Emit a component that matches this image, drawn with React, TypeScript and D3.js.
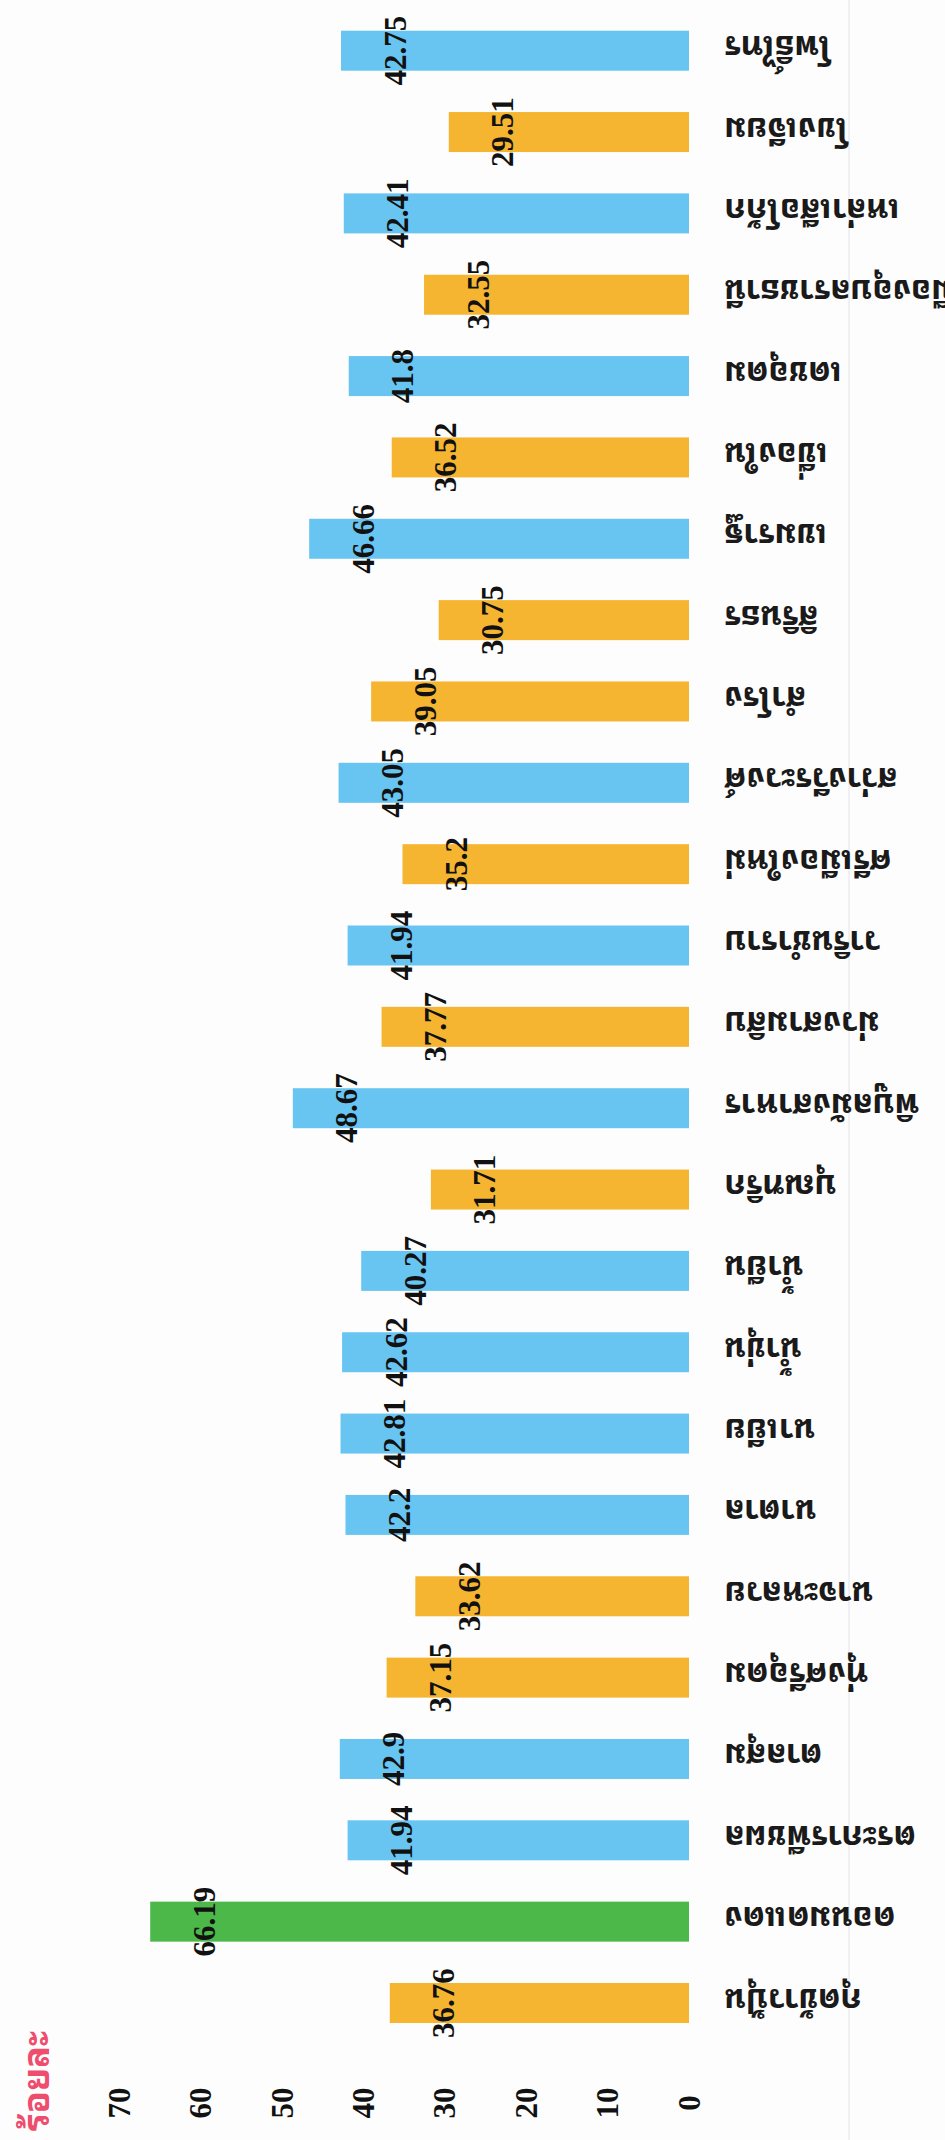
import React, { useEffect, useRef } from 'react';
import * as d3 from 'd3';

// districts of Ubon Ratchathani, in the order of the chart (bottom to top)
const districts = [
  'กุดข้าวปุ้น', 'ดอนมดแดง', 'ตระการพืชผล', 'ตาลสุม', 'ทุ่งศรีอุดม',
  'นาจะหลวย', 'นาตาล', 'นาเยีย', 'น้ำขุ่น', 'น้ำยืน',
  'บุณฑริก', 'พิบูลมังสาหาร', 'ม่วงสามสิบ', 'วารินชำราบ', 'ศรีเมืองใหม่',
  'สว่างวีระวงศ์', 'สำโรง', 'สิรินธร', 'เขมราฐ', 'เขื่องใน',
  'เดชอุดม', 'เมืองอุบลราชธานี', 'เหล่าเสือโก้ก', 'โขงเจียม', 'โพธิ์ไทร',
];
const percents = [
  36.76, 66.19, 41.94, 42.9, 37.15,
  33.62, 42.2, 42.81, 42.62, 40.27,
  31.71, 48.67, 37.77, 41.94, 35.2,
  43.05, 39.05, 30.75, 46.66, 36.52,
  41.8, 32.55, 42.41, 29.51, 42.75,
];
const ticks = [0, 10, 20, 30, 40, 50, 60, 70];
const axisTitle = 'ร้อยละ';

const W = 945;
const H = 2140;
const thaiFont =
  '"Noto Sans Thai Looped", "Noto Serif Thai", Norasi, Kinnari, Garuda, Loma, "Noto Sans Thai", "Noto Sans", sans-serif';
const numFont = '"Liberation Serif", "DejaVu Serif", serif';

const barColor = (v: number) => (v >= 50 ? '#4cb84a' : v >= 40 ? '#68c5f1' : '#f6b531');

const App = () => {
  const ref = useRef<SVGSVGElement>(null);

  useEffect(() => {
    const svg = d3.select(ref.current);
    svg.selectAll('*').remove();

    // the chart is turned a quarter turn: value runs right to left
    const x = d3.scaleLinear().domain([0, 70]).range([689, 119.2]);
    const y = d3.scalePoint<string>().domain(districts).range([2003, 50.7]);
    const barH = 40;

    svg.append('rect').attr('width', W).attr('height', H).attr('fill', '#fdfdfd');

    // faint fold line of the scanned page
    svg.append('line')
      .attr('x1', 849).attr('x2', 849).attr('y1', 0).attr('y2', H)
      .attr('stroke', '#e8e8ef').attr('stroke-width', 1.2);

    const rows = districts.map((d, i) => ({ name: d, value: percents[i] }));

    svg.selectAll('.bar')
      .data(rows)
      .enter().append('rect')
      .attr('class', 'bar')
      .attr('x', d => x(d.value))
      .attr('y', d => (y(d.name) as number) - barH / 2)
      .attr('width', d => x(0) - x(d.value))
      .attr('height', barH)
      .attr('fill', d => barColor(d.value));

    svg.selectAll('.val')
      .data(rows)
      .enter().append('text')
      .attr('class', 'val')
      .attr('transform', d => `translate(${x(d.value) + 54},${y(d.name)}) rotate(-90)`)
      .attr('text-anchor', 'middle')
      .attr('dominant-baseline', 'central')
      .style('font-family', numFont)
      .style('font-weight', 'bold')
      .style('font-size', '31px')
      .attr('fill', '#111')
      .text(d => String(d.value));

    // category labels read upside down, as in the turned page
    svg.selectAll('.cat')
      .data(rows)
      .enter().append('text')
      .attr('class', 'cat')
      .attr('transform', d => `translate(724,${y(d.name)}) rotate(180)`)
      .attr('text-anchor', 'end')
      .attr('dominant-baseline', 'central')
      .style('font-family', thaiFont)
      .style('font-weight', 'bold')
      .style('font-size', '33px')
      .attr('fill', '#1a1a1a')
      .text(d => d.name);

    svg.selectAll('.tick')
      .data(ticks)
      .enter().append('text')
      .attr('class', 'tick')
      .attr('transform', d => `translate(${x(d)},2103) rotate(-90)`)
      .attr('text-anchor', 'middle')
      .attr('dominant-baseline', 'central')
      .style('font-family', numFont)
      .style('font-weight', 'bold')
      .style('font-size', '31px')
      .attr('fill', '#111')
      .text(d => String(d));

    svg.append('text')
      .attr('transform', 'translate(33,2081) rotate(-90)')
      .attr('text-anchor', 'middle')
      .attr('dominant-baseline', 'central')
      .style('font-family', thaiFont)
      .style('font-weight', 'bold')
      .style('font-size', '36px')
      .attr('fill', '#ee4d6e')
      .text(axisTitle);
  }, []);

  return (
    <svg
      ref={ref}
      width={W}
      height={H}
      style={{ position: 'absolute', left: 0, top: 0, display: 'block' }}
    />
  );
};

export default App;
